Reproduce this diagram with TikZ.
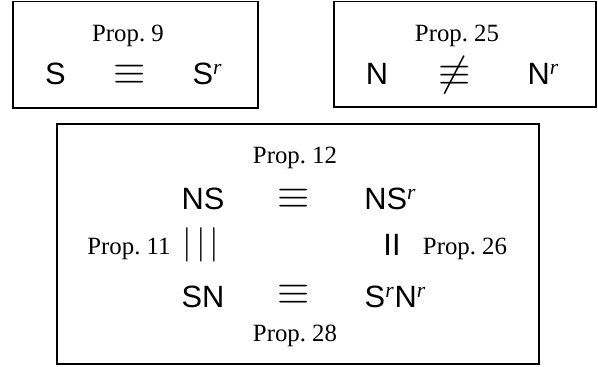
\documentclass[tikz,border=0pt]{standalone}
\usepackage{fontspec}
\setmainfont{Liberation Serif}
\setsansfont{Liberation Sans}
\usepackage{amsmath, amssymb}
\usetikzlibrary{positioning}

\newcommand{\rsup}{$^{\textnormal{\itshape r}}$}

\begin{document}
\begin{tikzpicture}[x=0.5pt, y=-0.5pt,
  caixa/.style={draw, line width=0.6pt},
  prop/.style={anchor=base, inner sep=0pt, font=\fontsize{12.4}{14}\selectfont},
  simb/.style={anchor=base, inner sep=0pt, font=\fontsize{15.4}{18}\sffamily},
  rel/.style={inner sep=0pt, font=\fontsize{20.6}{24}\selectfont}]
  \useasboundingbox (0,0) rectangle (598,367);

  % Caixas
  \draw[caixa] (13,1.5) rectangle (258,108);
  \draw[caixa] (334,1.5) rectangle (596,107);
  \draw[caixa] (57,124) rectangle (539,364);

  % Prop. 9
  \node[prop] (p9) at (128,41.5) {Prop.~9};
  \node[simb] (s) at (55.5,85) {S};
  \node[rel] (eq1) at (129.5,75) {$\equiv$};
  \node[simb] (sr) at (207.5,85) {S\rsup};

  % Prop. 25
  \node[prop] (p25) at (457,41.5) {Prop.~25};
  \node[simb] (n) at (377,85) {N};
  \node[rel] (neq) at (455,75) {$\not\equiv$};
  \node[simb] (nr) at (543.5,85) {N\rsup};

  % Quadrado central
  \node[prop] (p12) at (295,164) {Prop.~12};
  \node[simb] (ns) at (203,210) {NS};
  \node[rel] (eq2) at (294,198.5) {$\equiv$};
  \node[simb] (nsr) at (390.5,210) {NS\rsup};

  \node[prop] (p11) at (129,255) {Prop.~11};
  \node[inner sep=0pt, font=\fontsize{17}{20}\selectfont] (eq3) at (201,245) {$|\mkern2mu|\mkern2mu|$};
  \node[simb] (eq4) at (392,256) {II};
  \node[prop] (p26) at (465,255) {Prop.~26};

  \node[simb] (sn) at (203,308) {SN};
  \node[rel] (eq5) at (294,295) {$\equiv$};
  \node[simb] (srnr) at (395.5,308) {S\rsup N\rsup};
  \node[prop] (p28) at (295,342) {Prop.~28};
\end{tikzpicture}
\end{document}
